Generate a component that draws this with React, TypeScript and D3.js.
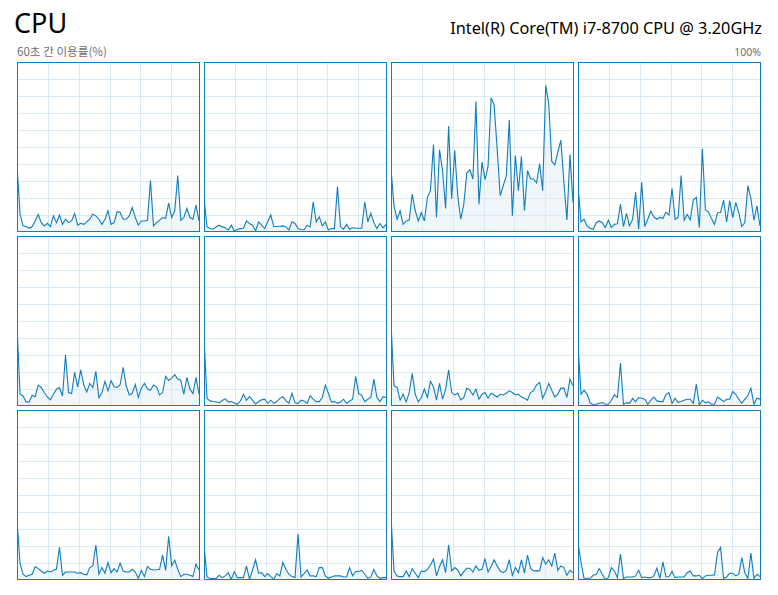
import React from "react";
import * as d3 from "d3";

const TITLE = "CPU";
const SUBTITLE = "60초 간 이용률(%)";
const PROCESSOR = "Intel(R) Core(TM) i7-8700 CPU @ 3.20GHz";
const MAX_LABEL = "100%";

const cpu0 = [39.5,10.5,3.6,3.2,2.2,3.2,6.5,10.3,5.5,3.6,5.1,3.2,9.5,5.5,9.9,4.5,7.5,5.5,6.5,10.9,4,5.1,4.5,6,7.5,10.5,9.5,7.5,4.5,7.5,12.5,4.5,5.5,11.9,11.5,7.5,7.5,9.5,14.4,8.5,4,6.5,6.5,6.9,30.2,3.6,5.5,7,8.5,8.1,17,8.5,12.5,33.2,6.9,8.5,13.8,8.5,7.5,15.8,6.5];
const cpu1 = [20,3,2,1.6,3,4,3,2.5,1.2,4,0.6,1.6,2,2.2,6.5,5,4,0.6,6,4,2,6,10,3.2,3.2,3.4,3.6,3,1.2,6,5,2,1.5,1.2,4,3,17.8,6,9,3.6,6,1.2,2,2,26.7,3.2,1.6,4.5,1.6,2.5,2.2,2.2,2.2,17.8,6,11,5.5,2,5,2.5,4.5];
const cpu2 = [37,15.4,7.5,12.5,4.5,6.5,7,22.3,12.5,6.5,11.5,6.5,20.4,24.3,51.4,8.5,48.4,36,13.8,62.3,19.4,48,21.3,7.5,16.4,34.8,36.6,31.2,76.7,16.4,41.1,30.8,38.7,79,74.7,49,21.3,27.3,32.8,65.8,9.5,45,24.3,44.5,12.5,36.2,31.2,31.2,28.9,40.1,24.3,86.2,75.7,41.5,39.5,47,54,29.2,7.1,45.5,17.4];
const cpu3 = [27.3,5.9,7.5,3.6,2.2,1.6,5.5,6.5,5.5,2.6,6.9,2.6,4.5,4.9,16.4,3.2,11,3.6,7.5,23.3,1.6,29.2,3.2,7.5,12.3,8.9,7.5,8.7,7.9,11.7,9.9,25.7,7.5,8.5,33.2,6.9,10.3,7.1,18.8,20.4,2.6,49,13,11.9,8,4.5,11.3,11.5,18.8,5.9,18.4,8.5,17.4,11.5,3.2,5.5,27.3,19.8,6.9,15.4,3.6];
const cpu4 = [47.5,6.9,5.9,2.4,2.4,6.3,5.5,12.3,10.9,7.9,5.3,3.6,6.9,9.9,10.9,5.9,30.1,7.9,7.3,19.8,11.3,21.2,12.5,8.3,13.3,10.9,20.4,5,7.9,14.5,8.9,14.9,11.3,10.9,12.5,22.8,11.9,6.5,7.5,12.7,5,10.5,13.3,10.1,9.3,12.3,11.3,6.5,7.9,17.4,15,16.4,18.4,15.8,15.2,6.9,16.8,9.9,7.3,16.8,6.9];
const cpu5 = [39.6,4.4,3,2.6,2.4,2,3.2,4.2,2.4,2.6,1.8,1,3,6.9,3.4,5.5,3.4,1.2,2.6,3.6,4,1.6,3.4,1.6,2.6,4.5,5.5,3.2,1.6,7.5,2,1.4,3.4,3,1.6,6,4,2.6,2.6,5,12.3,7.5,2.4,2.6,1.6,2.4,4,1.6,2.8,4,17.4,7.3,6.3,2.6,4,5,15.8,5,2.6,5.5,5];
const cpu6 = [48.5,11.9,10.9,3.4,6.9,2.4,7.9,19.2,6.9,2.4,5,9.9,5,14.5,11.3,3.4,13.3,4,9.9,21.2,7.9,6.5,7.5,3.6,5,10.5,9.3,6.5,9.9,4,6.9,7.9,4.6,7.5,6.5,5.3,6.9,6.5,7.5,8.9,7.9,6.5,6.9,5.3,4.6,3.4,7.9,9,12.5,13.9,4.6,8.5,13.3,9.3,5.3,6.9,10.5,10.5,5,15.8,11.9];
const cpu7 = [36.6,6.9,9.3,6.9,2,0.6,1,1.6,2,1,1,3.4,6.5,5,25.3,1,2,1.6,4.4,2.4,5,4.6,4,1,3.4,5.3,3,2.6,2.6,6.9,7.9,1.6,4.6,2,2.6,3.4,4,4,1.6,12.9,0.6,3.4,2,2.4,1,1,5.3,4,2.6,4,4,8.5,6.9,4,1.6,4,6,10.5,1,4.6,4];
const cpu8 = [35,9.9,3.4,2,2.8,3.4,7.9,6.7,5.3,4,5.3,4.7,5.7,6.3,19.2,2.8,4.7,4.7,4.7,4.7,4,4.3,3.4,3,7.3,8.3,20.6,3.4,7.3,4,10.3,4.3,6.7,4.7,9.9,5.3,4.7,4.7,6.3,4.7,1,5.7,2,7.9,6.3,5.9,6,6.3,14.6,5.7,25.7,8.3,11.7,6.3,2,3.4,3.4,2.8,2,9.3,5.9];
const cpu9 = [20.2,2,0.8,0.8,0.8,2.8,1.4,2.4,4.3,0.4,5,1.4,1.4,1.4,8.3,0.4,5.9,11.9,4,4.3,2,3.8,2,0.4,3.8,2.4,10.3,6.3,3.4,2,1.5,27,1.8,3.8,5.9,2.4,2.4,2,7.3,7.3,2.4,1,1.8,2.4,2.4,2.4,1.8,1.8,7.3,2.4,5,5,5.7,3.4,1,1.8,6.3,2.4,1,1.4,1.4];
const cpu10 = [37,5.3,2.4,2,2,5.3,2,6.7,4,1.4,5.3,4.9,6.3,8.7,12.3,2.4,7.9,11.9,4.3,20.6,5.3,7.3,5.9,2.4,4.9,6.9,6.9,4.7,8.3,5.7,6.3,12.6,4.7,7.9,11.9,8.3,5.3,4.3,5.7,11.9,2.8,7.3,4.3,11.9,4,14.6,6.9,5.3,5.5,5.3,13.2,9.3,11.9,8.3,15.8,5.7,8.3,7.3,2.8,5.7,4.3];
const cpu11 = [22,10.3,1,1,1,2.8,3.4,6.7,3.4,0.4,1.4,7.3,5.3,1.4,15.2,1,1.8,1.8,1.8,2.4,5.7,1.4,1.8,1.4,1.4,2.4,6.9,1,10.7,1.8,2,5,1.4,1.8,1.8,1.8,4.3,5.3,2.4,2.4,2.8,0.8,2.4,2.8,2.8,3,16.2,19.2,1,1.8,4,4,2.4,3.4,13.2,4.3,1,15.8,1,3.4,2];

const CORES = [cpu0, cpu1, cpu2, cpu3, cpu4, cpu5, cpu6, cpu7, cpu8, cpu9, cpu10, cpu11];

const COLS = 4;
const PX0 = 17;
const PY0 = 62;
const PW = 182;
const PH = 169;
const STEPX = 187;
const STEPY = 174;
const BLUE = "#117DBB";
const GRID = "#D9EAF4";
const FILL = "#F1F6FA";

function Panel({ data, idx }: { data: number[]; idx: number }) {
  const c = idx % COLS;
  const r = Math.floor(idx / COLS);
  const px = PX0 + c * STEPX;
  const py = PY0 + r * STEPY;
  const x = d3.scaleLinear().domain([0, data.length - 1]).range([px, px + PW]);
  const y = d3.scaleLinear().domain([0, 100]).range([py + 170, py]);
  const gx = d3.scaleLinear().domain([0, 6]).range([px, px + 185]);
  const line = d3.line<number>().x((_, i) => x(i)).y((v) => y(v));
  const area = d3.area<number>().x((_, i) => x(i)).y0(y(0)).y1((v) => y(v));
  const clipId = `clip${idx}`;
  const hTicks = d3.range(10, 100, 10);
  const vTicks = d3.range(1, 6);
  return (
    <g>
      <defs>
        <clipPath id={clipId}>
          <rect x={px + 1} y={py + 1} width={PW - 1} height={PH - 1} />
        </clipPath>
      </defs>
      <rect x={px} y={py} width={PW + 1} height={PH + 1} fill="#fff" />
      <g clipPath={`url(#${clipId})`}>
        <path d={area(data) || ""} fill={FILL} />
        {hTicks.map((t) => (
          <line key={"h" + t} x1={px} x2={px + PW} y1={Math.round(y(t)) + 0.5} y2={Math.round(y(t)) + 0.5} stroke={GRID} strokeWidth={1} />
        ))}
        {vTicks.map((t) => (
          <line key={"v" + t} y1={py} y2={py + PH} x1={Math.round(gx(t)) + 0.5} x2={Math.round(gx(t)) + 0.5} stroke={GRID} strokeWidth={1} />
        ))}
        <path d={line(data) || ""} fill="none" stroke={BLUE} strokeWidth={1.1} strokeLinejoin="miter" />
      </g>
      <rect x={px + 0.5} y={py + 0.5} width={PW} height={PH} fill="none" stroke={BLUE} strokeWidth={1} />
    </g>
  );
}

export default function App() {
  return (
    <svg
      width={778}
      height={595}
      style={{ position: "absolute", left: 0, top: 0, background: "#fff" }}
    >
      <rect x={0} y={0} width={778} height={595} fill="#fff" />
      <text x={14} y={33} fontFamily="'Noto Sans', sans-serif" fontSize={27} fill="#000">
        {TITLE}
      </text>
      <text x={762} y={34} textAnchor="end" fontFamily="'Noto Sans', sans-serif" fontSize={16.3} fill="#000">
        {PROCESSOR}
      </text>
      <text x={17} y={56} fontFamily="'Noto Sans CJK KR', 'Noto Sans', sans-serif" fontSize={11.6} fill="#707070">
        {SUBTITLE}
      </text>
      <text x={761} y={56} textAnchor="end" fontFamily="'Noto Sans', sans-serif" fontSize={10.5} fill="#707070">
        {MAX_LABEL}
      </text>
      {CORES.map((d, i) => (
        <Panel key={i} data={d} idx={i} />
      ))}
    </svg>
  );
}
